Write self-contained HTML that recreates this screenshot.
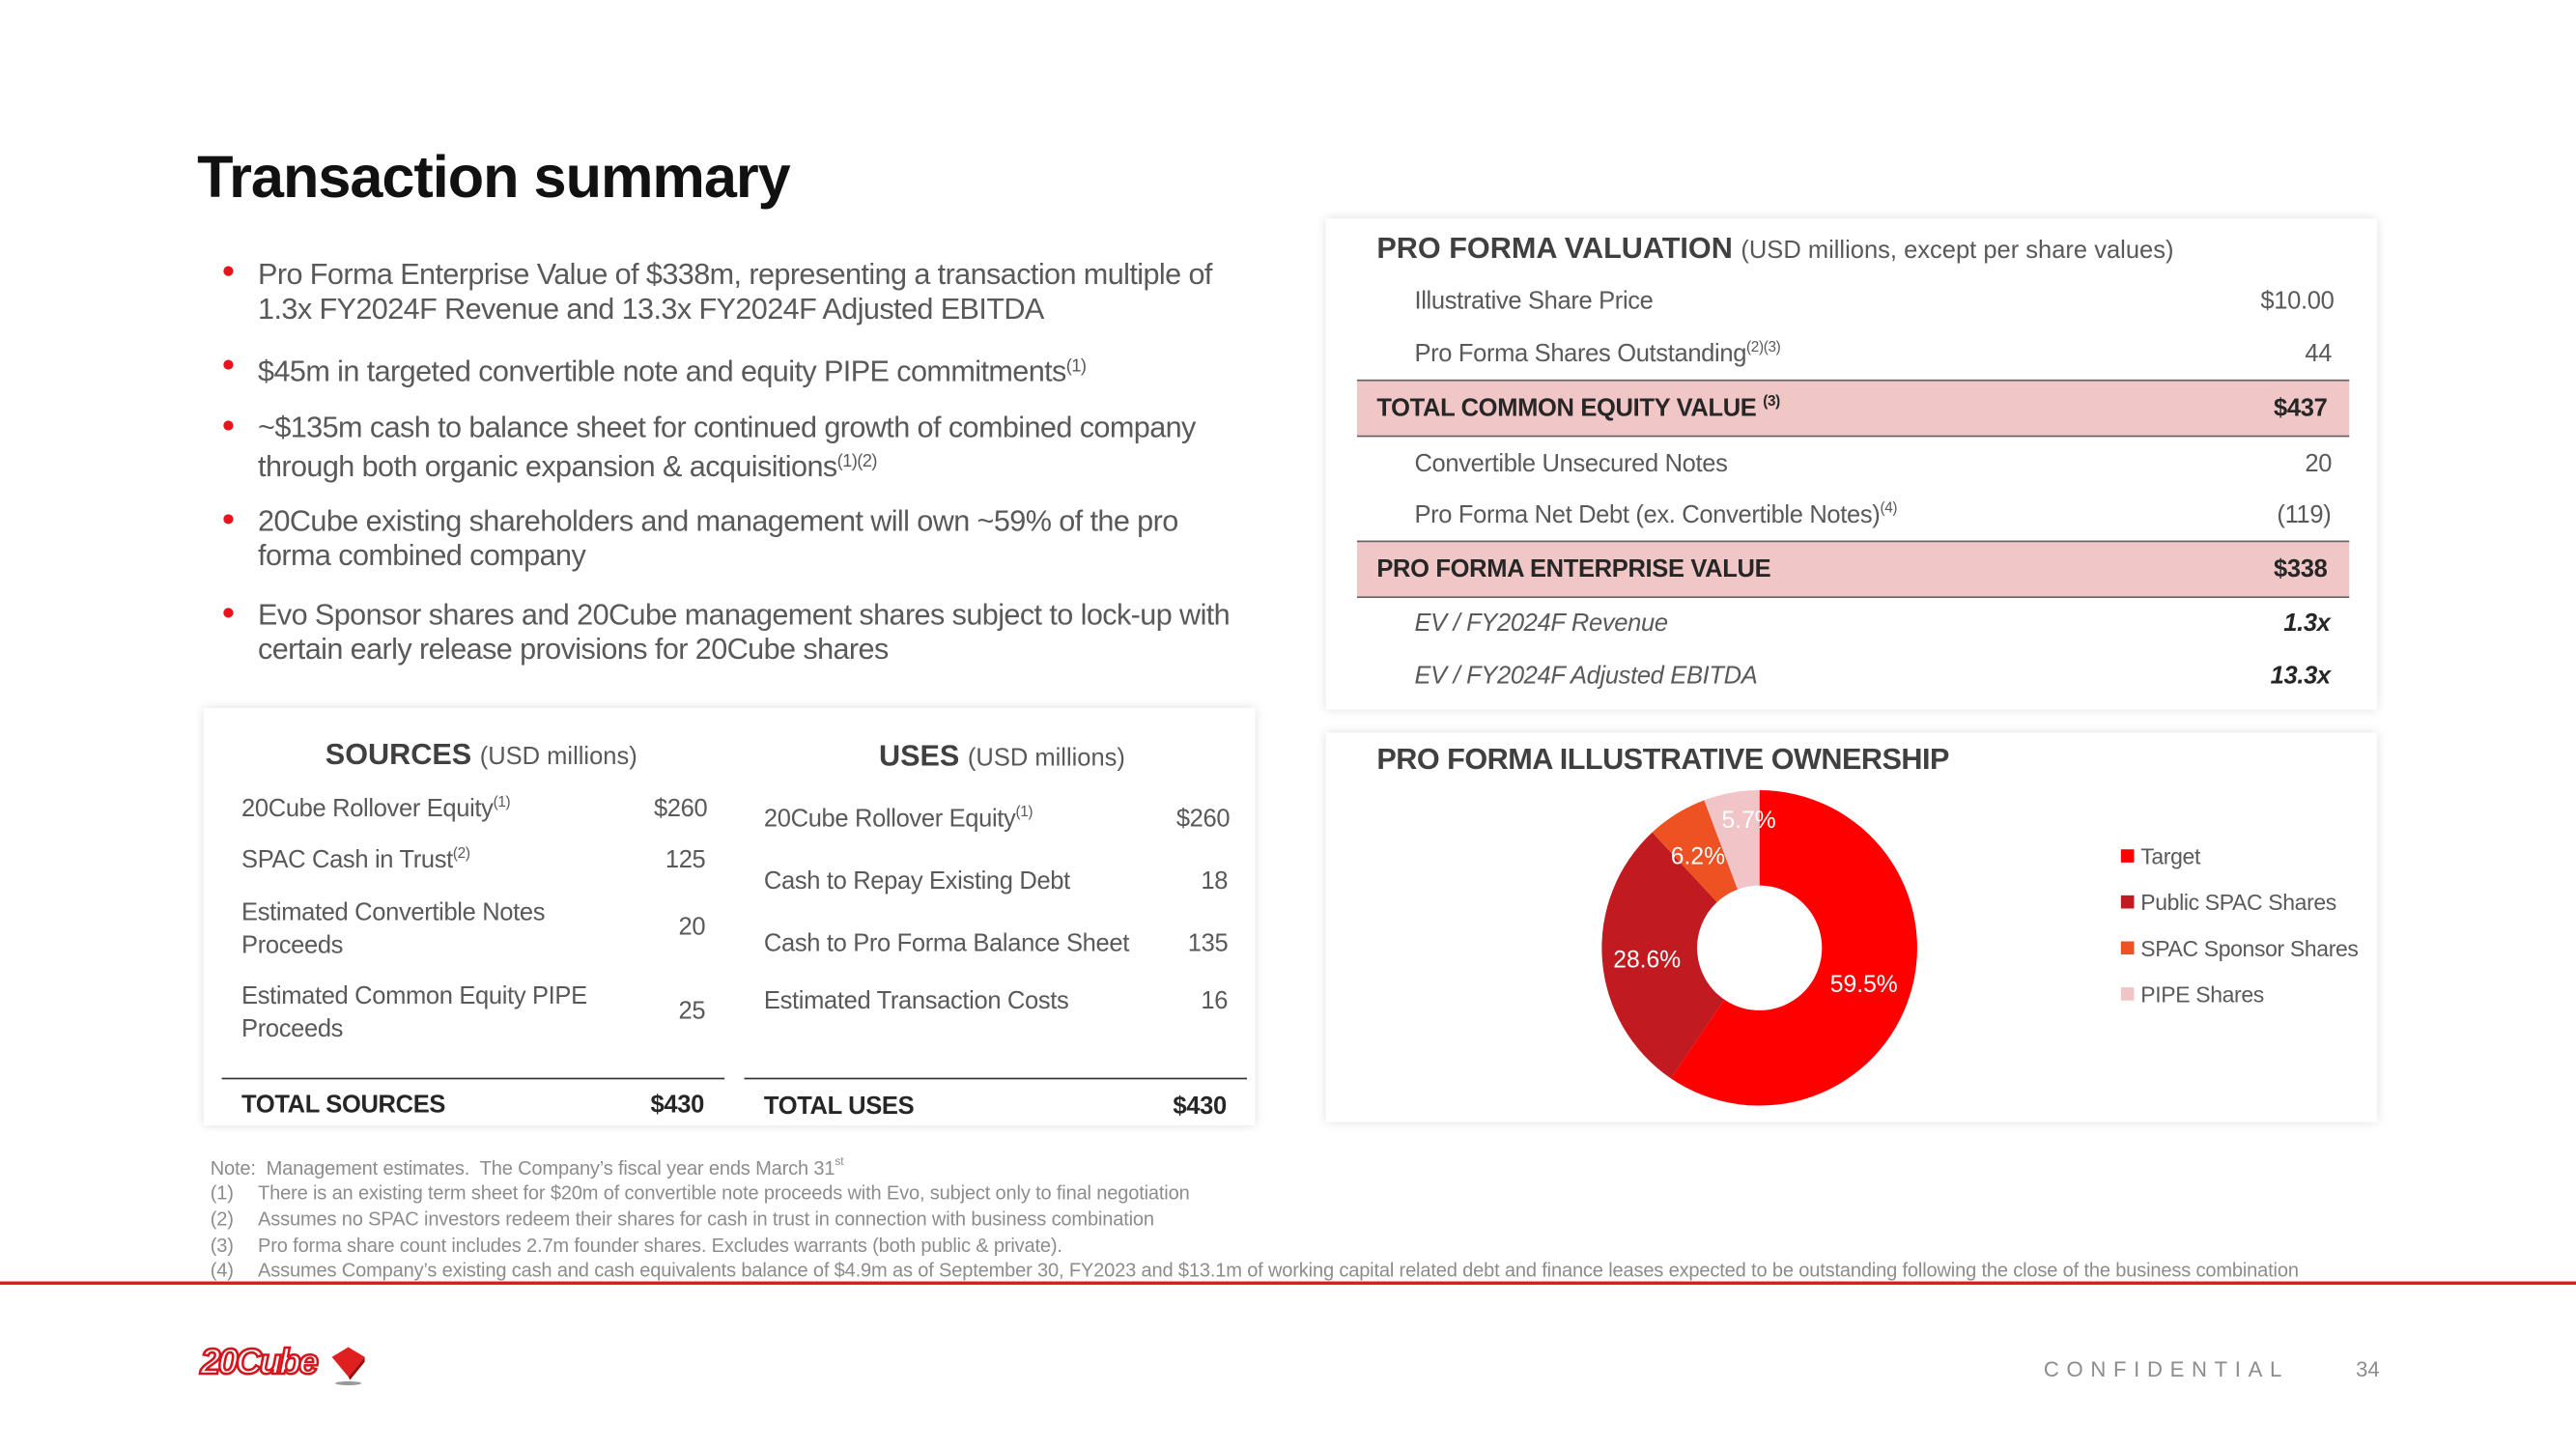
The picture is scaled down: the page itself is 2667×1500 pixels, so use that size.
<!DOCTYPE html>
<html><head><meta charset="utf-8"><style>
*{margin:0;padding:0;box-sizing:border-box}
html,body{width:2667px;height:1500px;overflow:hidden;background:#fff}
#s{position:absolute;left:0;top:0;width:1568px;height:882px;transform:scale(1.70089,1.70068);transform-origin:0 0;font-family:"Liberation Sans",sans-serif;color:#595959}
.a{position:absolute;white-space:nowrap}
.card{position:absolute;background:#fff;box-shadow:0 0 6px rgba(0,0,0,0.13)}
sup{font-size:60%;vertical-align:6px}
.b{font-size:18px;line-height:21px;color:#595959;letter-spacing:-0.35px}
.dot{position:absolute;left:136px;width:6px;height:6px;border-radius:3px;background:#e8141b}
.t{font-size:15px;letter-spacing:-0.2px}
.bold{font-weight:bold;color:#262626}
.band{position:absolute;left:826px;width:604px;height:35px;background:#f0c6c7;border-top:1.5px solid #666;border-bottom:1.5px solid #666}
.fn{font-size:11.8px;color:#8c8c8c;letter-spacing:-0.1px}
</style></head><body><div id="s">
<div class="a" style="left:120px;top:87px;font-size:36px;font-weight:bold;color:#111;letter-spacing:-0.6px">Transaction summary</div>

<div class="dot" style="top:162px"></div><div class="a b" style="left:157px;top:157px">Pro Forma Enterprise Value of $338m, representing a transaction multiple of<br>1.3x FY2024F Revenue and 13.3x FY2024F Adjusted EBITDA</div>
<div class="dot" style="top:219px"></div><div class="a b" style="left:157px;top:213px">$45m in targeted convertible note and equity PIPE commitments<sup>(1)</sup></div>
<div class="dot" style="top:256px"></div><div class="a b" style="left:157px;top:250px">~$135m cash to balance sheet for continued growth of combined company<br>through both organic expansion &amp; acquisitions<sup>(1)(2)</sup></div>
<div class="dot" style="top:313px"></div><div class="a b" style="left:157px;top:307px">20Cube existing shareholders and management will own ~59% of the pro<br>forma combined company</div>
<div class="dot" style="top:370px"></div><div class="a b" style="left:157px;top:364px">Evo Sponsor shares and 20Cube management shares subject to lock-up with<br>certain early release provisions for 20Cube shares</div>

<div class="card" style="left:124px;top:431px;width:640px;height:254px"></div>
<div class="a" style="left:198px;top:449px;font-size:18px"><b style="color:#404040">SOURCES</b> <span style="font-size:15px">(USD millions)</span></div>
<div class="a" style="left:535px;top:450px;font-size:18px"><b style="color:#404040">USES</b> <span style="font-size:15px">(USD millions)</span></div>
<div class="a t" style="left:147px;top:483px">20Cube Rollover Equity<sup>(1)</sup></div><div class="a t" style="left:398px;top:484px">$260</div>
<div class="a t" style="left:147px;top:514px">SPAC Cash in Trust<sup>(2)</sup></div><div class="a t" style="left:405px;top:515px">125</div>
<div class="a t" style="left:147px;top:546px;line-height:20px">Estimated Convertible Notes<br>Proceeds</div><div class="a t" style="left:413px;top:556px">20</div>
<div class="a t" style="left:147px;top:597px;line-height:20px">Estimated Common Equity PIPE<br>Proceeds</div><div class="a t" style="left:413px;top:607px">25</div>
<div class="a" style="left:135px;top:656px;width:306px;border-top:1.3px solid #333"></div>
<div class="a t bold" style="left:147px;top:664px">TOTAL SOURCES</div><div class="a t bold" style="left:396px;top:664px">$430</div>
<div class="a t" style="left:465px;top:489px">20Cube Rollover Equity<sup>(1)</sup></div><div class="a t" style="left:716px;top:490px">$260</div>
<div class="a t" style="left:465px;top:528px">Cash to Repay Existing Debt</div><div class="a t" style="left:731px;top:528px">18</div>
<div class="a t" style="left:465px;top:566px">Cash to Pro Forma Balance Sheet</div><div class="a t" style="left:723px;top:566px">135</div>
<div class="a t" style="left:465px;top:601px">Estimated Transaction Costs</div><div class="a t" style="left:731px;top:601px">16</div>
<div class="a" style="left:453px;top:656px;width:306px;border-top:1.3px solid #333"></div>
<div class="a t bold" style="left:465px;top:665px">TOTAL USES</div><div class="a t bold" style="left:714px;top:665px">$430</div>

<div class="card" style="left:807px;top:133px;width:640px;height:299px"></div>
<div class="a" style="left:838px;top:141px;font-size:18px"><b style="color:#404040">PRO FORMA VALUATION</b> <span style="font-size:15px">(USD millions, except per share values)</span></div>
<div class="a t" style="left:861px;top:175px">Illustrative Share Price</div><div class="a t" style="left:1376px;top:175px">$10.00</div>
<div class="a t" style="left:861px;top:206px">Pro Forma Shares Outstanding<sup>(2)(3)</sup></div><div class="a t" style="left:1403px;top:207px">44</div>
<div class="band" style="top:231px"></div>
<div class="a t bold" style="left:838px;top:239px">TOTAL COMMON EQUITY VALUE <sup>(3)</sup></div><div class="a t bold" style="left:1384px;top:240px">$437</div>
<div class="a t" style="left:861px;top:274px">Convertible Unsecured Notes</div><div class="a t" style="left:1403px;top:274px">20</div>
<div class="a t" style="left:861px;top:304px">Pro Forma Net Debt (ex. Convertible Notes)<sup>(4)</sup></div><div class="a t" style="left:1386px;top:305px">(119)</div>
<div class="band" style="top:329px"></div>
<div class="a t bold" style="left:838px;top:338px">PRO FORMA ENTERPRISE VALUE</div><div class="a t bold" style="left:1384px;top:338px">$338</div>
<div class="a t" style="left:861px;top:371px;font-style:italic">EV / FY2024F Revenue</div><div class="a t bold" style="left:1390px;top:371px;font-style:italic">1.3x</div>
<div class="a t" style="left:861px;top:403px;font-style:italic">EV / FY2024F Adjusted EBITDA</div><div class="a t bold" style="left:1382px;top:403px;font-style:italic">13.3x</div>

<div class="card" style="left:807px;top:446px;width:640px;height:237px"></div>
<div class="a" style="left:838px;top:452px;font-size:18px;font-weight:bold;color:#404040;letter-spacing:-0.3px">PRO FORMA ILLUSTRATIVE OWNERSHIP</div>
<svg class="a" style="left:0;top:0" width="1568" height="882" viewBox="0 0 1568 882">
<path d="M1071,481 A96,96 0 1 1 1017.04,656.40 L1049.64,608.43 A38,38 0 1 0 1071,539 Z" fill="#ff0000"/>
<path d="M1017.04,656.40 A96,96 0 0 1 1005.70,506.63 L1045.15,549.15 A38,38 0 0 0 1049.64,608.43 Z" fill="#c11a20"/>
<path d="M1005.70,506.63 A96,96 0 0 1 1037.35,487.09 L1057.68,541.41 A38,38 0 0 0 1045.15,549.15 Z" fill="#ee5222"/>
<path d="M1037.35,487.09 A96,96 0 0 1 1071,481 L1071,539 A38,38 0 0 0 1057.68,541.41 Z" fill="#f1c5c7"/>
<g font-family="Liberation Sans,sans-serif" font-size="14.5" fill="#fff">
<text x="1048" y="504">5.7%</text><text x="1017" y="526">6.2%</text><text x="982" y="589">28.6%</text><text x="1114" y="604">59.5%</text></g>
<rect x="1291" y="517" width="8" height="8" fill="#ff0000"/><rect x="1291" y="545" width="8" height="8" fill="#c11a20"/>
<rect x="1291" y="573" width="8" height="8" fill="#ee5222"/><rect x="1291" y="601" width="8" height="8" fill="#f1c5c7"/>
<g font-family="Liberation Sans,sans-serif" font-size="13.5" fill="#595959" letter-spacing="-0.2">
<text x="1303" y="526">Target</text><text x="1303" y="554">Public SPAC Shares</text><text x="1303" y="582">SPAC Sponsor Shares</text><text x="1303" y="610">PIPE Shares</text></g>
</svg>

<div class="a fn" style="left:128px;top:703px">Note:&nbsp; Management estimates.&nbsp; The Company’s fiscal year ends March 31<sup>st</sup></div>
<div class="a fn" style="left:128px;top:719px">(1)</div><div class="a fn" style="left:157px;top:719px">There is an existing term sheet for $20m of convertible note proceeds with Evo, subject only to final negotiation</div>
<div class="a fn" style="left:128px;top:735px">(2)</div><div class="a fn" style="left:157px;top:735px">Assumes no SPAC investors redeem their shares for cash in trust in connection with business combination</div>
<div class="a fn" style="left:128px;top:751px">(3)</div><div class="a fn" style="left:157px;top:751px">Pro forma share count includes 2.7m founder shares. Excludes warrants (both public &amp; private).</div>
<div class="a fn" style="left:128px;top:766px">(4)</div><div class="a fn" style="left:157px;top:766px">Assumes Company’s existing cash and cash equivalents balance of $4.9m as of September 30, FY2023 and $13.1m of working capital related debt and finance leases expected to be outstanding following the close of the business combination</div>
<div class="a" style="left:0;top:780px;width:1568px;height:2px;background:#e8141b"></div>

<div class="a" style="left:122px;top:816px;font-size:22px;font-weight:bold;font-style:italic;color:#fff;-webkit-text-stroke:1.5px #d7141b;letter-spacing:-1.5px">20Cube</div>
<svg class="a" style="left:200px;top:818px" width="24" height="26"><polygon points="2,8 12,2 22,8 12,20" fill="#e02020"/><polygon points="12,20 22,8 22,11 13,22" fill="#a01010"/><ellipse cx="12" cy="24" rx="8" ry="1.2" fill="#999"/></svg>
<div class="a" style="left:1244px;top:826px;font-size:13px;letter-spacing:4.5px;color:#8c8c8c">CONFIDENTIAL</div>
<div class="a" style="left:1434px;top:826px;font-size:13px;color:#8c8c8c">34</div>
</div></body></html>
